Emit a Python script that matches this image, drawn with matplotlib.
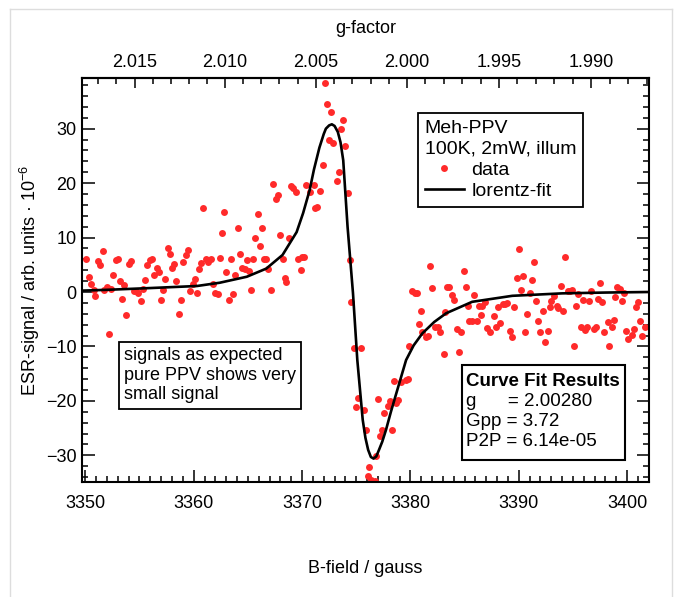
import numpy as np
import matplotlib
matplotlib.use("Agg")
import matplotlib.pyplot as plt
from matplotlib.lines import Line2D
from matplotlib.patches import Rectangle

plt.rcParams["font.family"] = ["Liberation Sans", "DejaVu Sans"]
plt.rcParams["mathtext.fontset"] = "custom"
plt.rcParams["mathtext.rm"] = "Liberation Sans"
plt.rcParams["font.size"] = 13

# messpunkte (B in gauss, signal in 1e-6 arb. units)
b_data = [
    3350.09, 3350.3, 3350.5, 3350.8, 3350.9, 3351.2, 3351.4, 3351.6, 3351.75, 3352.0,
    3352.2, 3352.4, 3352.6, 3352.8, 3353.0, 3353.2, 3353.4, 3353.6, 3353.8, 3354.0,
    3354.2, 3354.45, 3354.7, 3354.85, 3355.1, 3355.3, 3355.5, 3355.7, 3356.0, 3356.2,
    3356.35, 3356.6, 3356.8, 3357.0, 3357.15, 3357.4, 3357.6, 3357.8, 3358.0, 3358.2,
    3358.4, 3358.65, 3358.8, 3359.05, 3359.3, 3359.45, 3359.7, 3359.95, 3360.1, 3360.3,
    3360.5, 3360.7, 3360.9, 3361.1, 3361.35, 3361.6, 3361.75, 3361.95, 3362.2, 3362.4,
    3362.6, 3362.8, 3363.0, 3363.25, 3363.4, 3363.65, 3363.85, 3364.05, 3364.3, 3364.5,
    3364.7, 3364.9, 3365.1, 3365.3, 3365.5, 3365.7, 3365.9, 3366.1, 3366.3, 3366.5,
    3366.7, 3366.9, 3367.15, 3367.3, 3367.6, 3367.8, 3367.95, 3368.2, 3368.4, 3368.55,
    3368.8, 3368.95, 3369.2, 3369.4, 3369.6,
    3369.9, 3370.0, 3370.2, 3370.4, 3370.7, 3371.1, 3371.2, 3371.4, 3371.7, 3371.9,
    3372.1, 3372.3, 3372.5, 3372.7, 3372.9, 3373.2, 3373.4, 3373.55, 3373.8, 3374.0,
    3374.2, 3374.4, 3374.5, 3374.75, 3375.0, 3375.15, 3375.4, 3375.7, 3375.9, 3376.1,
    3376.2, 3376.4, 3376.7, 3376.8, 3377.05, 3377.2, 3377.4, 3377.6, 3377.9, 3378.1,
    3378.3, 3378.5, 3378.7, 3378.9, 3379.1, 3379.6, 3379.8, 3379.9,
    3380.15, 3380.45, 3380.6, 3380.8, 3381.0, 3381.1, 3381.4, 3381.6, 3381.8, 3382.0,
    3382.3, 3382.5, 3382.7, 3383.1, 3383.2, 3383.4, 3383.6, 3383.8, 3384.0, 3384.3,
    3384.5, 3384.7, 3384.9, 3385.1, 3385.3, 3385.4, 3385.7, 3385.9, 3386.1, 3386.3,
    3386.5, 3386.65, 3386.9, 3387.1, 3387.3, 3387.7, 3387.9, 3388.1, 3388.3, 3388.55,
    3388.7, 3388.95, 3389.2, 3389.35, 3389.6, 3389.8, 3390.0, 3390.2, 3390.4, 3390.55,
    3390.8, 3391.0, 3391.2, 3391.4, 3391.6, 3391.8, 3392.0, 3392.2, 3392.4, 3392.7,
    3392.85, 3393.0, 3393.25, 3393.5, 3393.6, 3393.9, 3394.1, 3394.3, 3394.5, 3394.7,
    3394.9, 3395.1, 3395.3, 3395.5, 3395.7, 3395.9, 3396.1, 3396.3, 3396.5, 3396.7,
    3396.9, 3397.1, 3397.3, 3397.5, 3397.7, 3397.9, 3398.2, 3398.3, 3398.6, 3398.8,
    3398.9, 3399.1, 3399.3, 3399.5, 3399.75, 3399.9, 3400.1, 3400.4, 3400.6, 3400.8,
    3401.0, 3401.2, 3401.4, 3401.6,
]
sig_data = [
    6.06, 2.8, 1.5, 0.4, -0.7, 5.7, 5.0, 7.5, 0.4, 1.0,
    -7.8, 0.5, 3.1, 5.9, 6.0, 2.0, -1.2, 1.3, -4.3, 5.1,
    5.7, 0.25, 0.1, -0.2, -1.6, 0.5, 2.2, 5.0, 5.9, 6.0,
    3.1, 4.5, 3.6, -1.5, 0.4, 2.3, 8.0, 6.9, 4.5, 5.1,
    2.1, -4.1, -1.5, 5.5, 6.8, 7.8, 0.1, 1.5, 2.3, -0.2,
    4.2, 5.3, 15.5, 6.1, 5.5, 6.1, 1.5, -0.2, -0.4, 6.3,
    10.8, 14.7, 3.6, -1.5, 6.1, -0.4, 3.1, 11.7, 6.9, 4.5,
    4.2, 5.9, 3.9, 0.4, 6.1, 9.9, 14.3, 8.5, 11.7, 6.1,
    6.1, 4.2, 0.4, 19.8, 17.0, 17.9, 10.5, 6.1, 2.5, 1.8,
    9.9, 19.5, 19.1, 18.4, 6.0,
    4.0, 6.5, 6.5, 19.6, 18.4, 19.6, 15.4, 15.7, 18.6, 23.3,
    38.4, 34.6, 28.0, 33.1, 27.4, 20.4, 22.0, 29.9, 31.6, 26.8,
    18.2, 5.9, -1.9, -10.2, -21.2, -19.4, -10.2, -21.7, -25.4, -33.8,
    -32.2, -34.6, -34.8, -30.2, -19.6, -26.5, -25.4, -22.3, -21.0, -20.1,
    -25.4, -16.4, -20.4, -19.8, -16.6, -16.1, -16.0, -10.0,
    0.2, -0.1, -0.1, -5.9, -3.5, -7.3, -8.3, -8.1, 4.8, 0.7,
    -6.4, -6.4, -7.3, -11.3, -3.6, 0.9, 1.0, -0.5, -1.5, -6.8,
    -11.0, -7.3, 3.9, 1.0, -2.6, -5.3, -5.3, -0.6, -5.3, -2.6,
    -4.3, -2.6, -1.8, -6.7, -7.3, -4.4, -6.4, -2.7, -5.7, -2.2,
    -2.2, -2.0, -7.1, -8.3, -2.7, 2.6, 7.9, 0.4, 3.0, -7.3,
    -4.1, -0.2, 2.2, 5.6, -1.7, -5.3, -7.3, -3.4, -9.1, -7.1,
    -2.8, -1.6, -0.7, -2.6, -3.0, 1.1, -3.4, 6.5, 0.2, 0.2,
    0.4, -10.0, -2.6, -0.4, -6.4, -1.5, -6.9, -6.5, -1.6, 0.2,
    -6.8, -6.4, -1.2, 1.6, -1.8, -7.3, -5.6, -10.0, -6.4, -5.1,
    -0.9, 1.0, 0.5, -1.6, -0.1, -7.1, -8.7, -7.9, -6.8, -2.8,
    -1.8, -5.4, -8.1, -6.4,
]

# fitkurve
b_fit = [
    3349.7, 3352.0, 3355.7, 3358.0, 3360.3, 3362.4, 3364.9, 3366.7, 3368.2, 3369.5,
    3370.1, 3370.7, 3371.1, 3371.6, 3372.0, 3372.2, 3372.5, 3372.75, 3373.0, 3373.3,
    3373.55, 3373.8, 3374.2, 3374.7, 3375.1, 3375.6, 3375.85, 3376.1, 3376.35, 3376.6,
    3376.85, 3377.1, 3377.4, 3377.75, 3378.2, 3378.7, 3379.6, 3380.3, 3381.1, 3382.2,
    3383.3, 3385.7, 3389.4, 3394.0, 3398.0, 3402.0,
]
sig_fit = [
    0.25, 0.4, 0.7, 0.9, 1.1, 1.7, 2.8, 4.3, 6.8, 11.0,
    14.5, 18.7, 22.5, 26.5, 29.0, 30.0, 30.6, 30.8, 30.5, 29.4,
    27.5, 24.2, 12.0, -0.2, -12.5, -23.5, -26.8, -29.0, -30.3, -30.6,
    -30.2, -29.0, -27.5, -25.3, -22.0, -18.6, -12.5, -9.8, -7.6, -5.5,
    -3.9, -1.8, -0.7, -0.25, -0.1, 0.0,
]

G_CONST = 6759.4  # g * B = h*nu/muB in gauss

fit_lines = ["g      = 2.00280", "Gpp = 3.72", "P2P = 6.14e-05"]


def fx(px):
    return px / 678


def fy(py):
    return 1 - py / 597


fig = plt.figure(figsize=(6.78, 5.97), dpi=100)
ax = fig.add_axes([0.121, 0.1926, 0.836, 0.6767])

ax.plot(b_data, sig_data, "o", color="#ff2a2a", markersize=5, markeredgewidth=0, zorder=2)
ax.plot(b_fit, sig_fit, "-", color="black", linewidth=1.9, zorder=3)

ax.set_xlim(3349.7, 3402.0)
ax.set_ylim(-34.9, 39.3)
ax.set_xticks([3350, 3360, 3370, 3380, 3390, 3400])
ax.set_xticks(np.arange(3350, 3403, 1), minor=True)
ax.set_yticks([-30, -20, -10, 0, 10, 20, 30])
ax.set_yticks(np.arange(-34, 40, 2), minor=True)

ax.tick_params(which="both", direction="in", bottom=True, left=True, right=True, top=False,
               width=1.1, labelsize=13)
ax.tick_params(axis="x", pad=9)
ax.tick_params(axis="y", pad=4)
ax.tick_params(which="major", length=9)
ax.tick_params(which="minor", length=4.5)
for sp in ax.spines.values():
    sp.set_linewidth(1.5)

ax.set_xlabel("B-field / gauss", labelpad=35)
ax.set_ylabel("ESR-signal / arb. units · 10$^{-6}$", labelpad=3)

sec = ax.secondary_xaxis("top", functions=(lambda b: G_CONST / np.maximum(b, 1e-9),
                                           lambda g: G_CONST / np.maximum(g, 1e-9)))
sec.set_xticks([2.015, 2.010, 2.005, 2.000, 1.995, 1.990])
sec.set_xticklabels(["2.015", "2.010", "2.005", "2.000", "1.995", "1.990"])
sec.set_xticks(np.arange(1.987, 2.021, 0.001), minor=True)
sec.tick_params(which="both", direction="in", width=1.1, labelsize=13, pad=5)
sec.tick_params(which="major", length=7)
sec.tick_params(which="minor", length=4.5)
sec.spines["top"].set_linewidth(1.5)
sec.set_xlabel("g-factor", labelpad=15)

handles = [
    Line2D([], [], marker="o", color="#ff2a2a", linestyle="none", markersize=5, markeredgewidth=0),
    Line2D([], [], color="black", linewidth=1.9),
]
leg = ax.legend(handles, ["data", "lorentz-fit"], title="Meh-PPV\n100K, 2mW, illum",
                loc="upper left", bbox_to_anchor=(fx(418), fy(113)),
                bbox_transform=fig.transFigure, fancybox=False, framealpha=1,
                edgecolor="black", fontsize=14, title_fontsize=14, alignment="left",
                handlelength=2.0, handletextpad=0.4, borderpad=0.35, labelspacing=0.2,
                borderaxespad=0)
leg.get_title().set_linespacing(1.25)
leg.get_frame().set_linewidth(1.3)

box = dict(boxstyle="square,pad=0.3", facecolor="white", edgecolor="black", linewidth=1.3)
fig.text(fx(124), fy(347), "signals as expected\npure PPV shows very\nsmall signal",
         ha="left", va="top", fontsize=13, linespacing=1.2, bbox=box, zorder=5)

# kasten mit fit-ergebnissen
fig.add_artist(Rectangle((fx(462), fy(460)), fx(625) - fx(462), fy(365) - fy(460),
                         transform=fig.transFigure, facecolor="white", edgecolor="black",
                         linewidth=1.5, zorder=5))
fig.text(fx(466), fy(381), "Curve Fit Results", ha="left", va="center", fontsize=13.5,
         fontweight="bold", zorder=6)
for i, line in enumerate(fit_lines):
    fig.text(fx(466), fy(402 + 20 * i), line, ha="left", va="center", fontsize=13.5, zorder=6)

# grauer rahmen
for xs, ys in [((fx(10), fx(672)), (fy(9), fy(9))),
               ((fx(10), fx(10)), (0, fy(9))),
               ((fx(672), fx(672)), (0, fy(9)))]:
    fig.add_artist(Line2D(xs, ys, color="#dddddd", linewidth=1, transform=fig.transFigure))

fig.savefig("out.png", dpi=100)
